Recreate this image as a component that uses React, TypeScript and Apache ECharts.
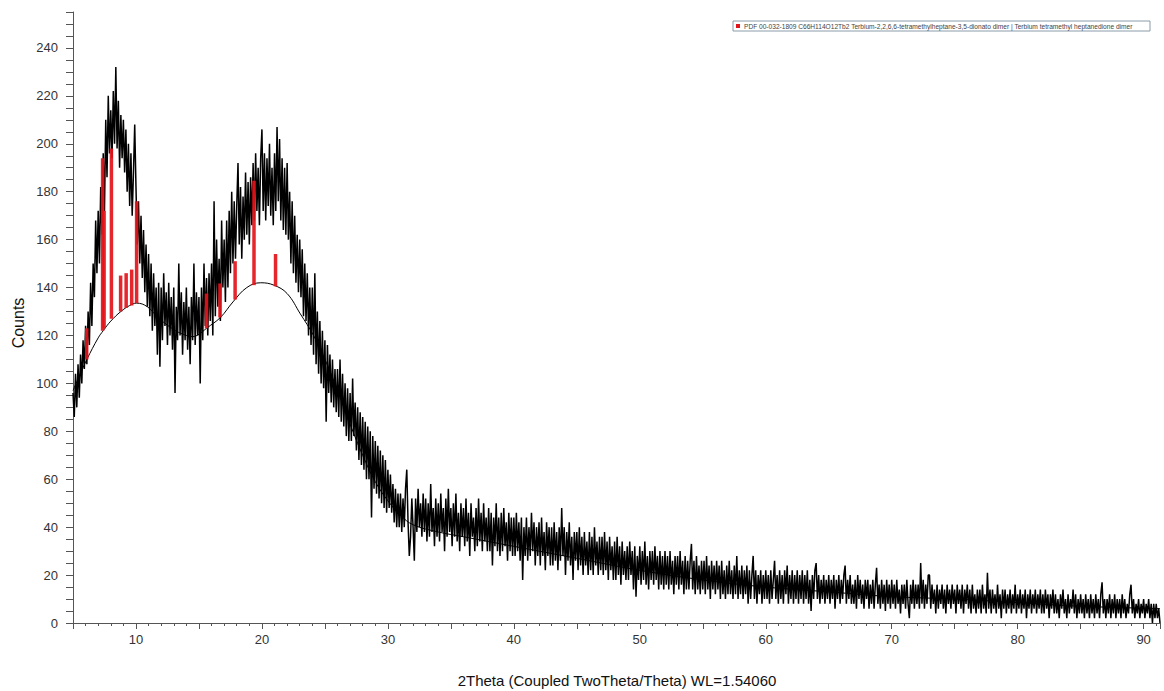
import React, { useEffect, useRef } from "react";
import * as echarts from "echarts";

// Scan grid: 2Theta from 5.0 in steps of 0.1 degrees
const THETA_START = 5;
const THETA_STEP = 0.1;

// Counts, 10 values per degree
const counts05to15 = [
  96, 86, 104, 90, 108, 94, 112, 100, 118, 106,
  124, 108, 130, 116, 142, 124, 150, 136, 168, 146,
  172, 150, 182, 162, 196, 172, 210, 186, 220, 196,
  214, 194, 222, 200, 232, 198, 218, 190, 212, 194,
  210, 188, 206, 180, 200, 174, 196, 170, 188, 208,
  182, 158, 176, 150, 170, 144, 164, 138, 158, 132,
  154, 128, 150, 122, 146, 124, 140, 112, 142, 107,
  140, 118, 146, 124, 138, 116, 142, 120, 136, 114,
  140, 96, 132, 118, 150, 120, 138, 112, 134, 118,
  140, 114, 132, 108, 136, 118, 150, 116, 138, 120,
];
const counts15to25 = [
  136, 100, 140, 118, 150, 124, 144, 120, 146, 126,
  150, 120, 176, 128, 160, 132, 152, 126, 168, 140,
  160, 134, 168, 140, 172, 146, 180, 150, 176, 152,
  174, 192, 158, 182, 152, 178, 160, 188, 162, 184,
  158, 186, 166, 192, 168, 196, 172, 190, 166, 194,
  206, 172, 196, 168, 194, 174, 200, 170, 190, 166,
  196, 172, 207, 176, 202, 168, 194, 164, 190, 162,
  192, 160, 180, 150, 176, 146, 170, 142, 162, 138,
  160, 136, 156, 128, 150, 126, 146, 120, 140, 116,
  140, 112, 146, 108, 130, 104, 126, 100, 122, 98,
];
const counts25to40 = [
  118, 84, 116, 96, 112, 92, 110, 90, 106, 88,
  106, 86, 110, 84, 104, 82, 100, 78, 98, 76,
  96, 76, 102, 78, 92, 72, 90, 68, 88, 66,
  86, 64, 84, 60, 82, 60, 80, 44, 78, 56,
  76, 54, 74, 52, 72, 50, 70, 48, 68, 46,
  64, 48, 62, 46, 58, 42, 56, 40, 54, 40,
  54, 38, 52, 40, 56, 64, 42, 28, 36, 52,
  40, 26, 52, 38, 56, 40, 50, 36, 54, 38,
  52, 34, 50, 36, 58, 38, 48, 32, 52, 36,
  50, 34, 54, 38, 48, 30, 52, 36, 56, 38,
  48, 32, 50, 36, 54, 34, 46, 30, 50, 36,
  48, 32, 52, 34, 46, 28, 50, 36, 44, 30,
  48, 32, 52, 34, 46, 30, 50, 34, 44, 30,
  48, 30, 46, 24, 44, 32, 50, 30, 44, 28,
  46, 30, 48, 32, 42, 26, 46, 30, 44, 28,
];
const counts40to60 = [
  44, 28, 46, 30, 42, 26, 44, 18, 40, 28,
  44, 26, 40, 28, 46, 30, 42, 24, 40, 28,
  42, 24, 44, 28, 38, 22, 42, 28, 40, 24,
  40, 24, 42, 26, 38, 22, 40, 26, 48, 28,
  40, 20, 38, 26, 42, 24, 36, 18, 38, 26,
  38, 22, 40, 24, 36, 20, 38, 24, 34, 20,
  38, 22, 36, 20, 40, 24, 34, 20, 36, 22,
  36, 20, 38, 22, 34, 18, 36, 22, 32, 18,
  34, 18, 36, 20, 32, 16, 34, 20, 30, 18,
  32, 18, 34, 20, 30, 14, 32, 11, 28, 18,
  32, 16, 30, 18, 34, 16, 28, 14, 30, 18,
  30, 16, 32, 18, 28, 14, 30, 16, 28, 14,
  30, 16, 28, 14, 30, 16, 26, 12, 28, 16,
  28, 14, 30, 16, 26, 12, 28, 14, 26, 14,
  26, 33, 14, 26, 12, 28, 14, 24, 12, 26,
  14, 26, 12, 28, 14, 24, 10, 26, 14, 24,
  12, 26, 14, 24, 10, 26, 12, 22, 10, 24,
  12, 26, 12, 22, 10, 24, 12, 28, 10, 22,
  12, 24, 10, 22, 12, 24, 8, 22, 10, 20,
  28, 10, 22, 8, 20, 12, 22, 8, 20, 10,
];
const counts60to91 = [
  22, 10, 20, 8, 22, 10, 18, 26, 10, 20,
  8, 22, 10, 20, 8, 22, 12, 24, 8, 20,
  10, 22, 8, 20, 10, 22, 8, 20, 10, 22,
  8, 20, 10, 22, 8, 18, 5, 20, 10, 22,
  25, 10, 20, 8, 18, 10, 20, 8, 18, 10,
  20, 8, 18, 10, 20, 6, 18, 10, 20, 8,
  18, 10, 20, 24, 8, 18, 10, 20, 8, 16,
  8, 18, 6, 20, 10, 18, 8, 16, 6, 18,
  10, 18, 6, 16, 8, 18, 6, 16, 23, 8,
  16, 6, 18, 8, 16, 5, 18, 8, 16, 6,
  18, 8, 16, 6, 18, 8, 14, 4, 16, 8,
  16, 6, 18, 8, 2, 16, 8, 18, 6, 16,
  8, 16, 6, 25, 8, 18, 6, 16, 8, 20,
  20, 6, 16, 8, 14, 4, 16, 6, 14, 8,
  16, 6, 14, 4, 16, 8, 14, 6, 16, 8,
  14, 4, 16, 8, 14, 6, 16, 4, 14, 8,
  16, 6, 14, 4, 16, 6, 12, 4, 14, 6,
  14, 4, 16, 6, 12, 4, 21, 6, 14, 4,
  14, 6, 12, 4, 16, 6, 12, 2, 14, 6,
  14, 4, 12, 6, 14, 4, 12, 6, 16, 4,
  12, 6, 14, 4, 12, 6, 14, 2, 12, 6,
  14, 4, 12, 6, 14, 4, 12, 6, 14, 4,
  12, 4, 14, 6, 12, 2, 12, 6, 14, 4,
  12, 4, 10, 2, 12, 6, 14, 4, 10, 2,
  12, 4, 10, 6, 14, 4, 12, 2, 10, 4,
  12, 4, 10, 2, 12, 4, 10, 2, 12, 4,
  10, 2, 12, 4, 10, 2, 12, 17, 4, 10,
  2, 10, 4, 12, 2, 10, 4, 12, 2, 10,
  4, 10, 2, 12, 4, 10, 2, 8, 4, 12,
  16, 4, 10, 2, 8, 4, 10, 2, 8, 4,
  10, 2, 8, 4, 10, 2, 8, 0, 8, 2,
  8, 2, 6, 0,
];

// Background curve (knots)
const bgTheta = [5.0, 5.5, 6.1, 7.0, 7.4, 8.0, 8.8, 9.5, 10.05, 10.9, 11.85, 13.15, 14.0, 14.5, 15.0, 15.6, 16.7, 17.7, 18.8, 19.9, 20.95, 22.0, 23.05, 24.1, 25, 26, 27, 28, 29, 30, 31, 32, 34, 36, 38, 40, 45, 50, 55, 60, 65, 70, 75, 80, 85, 91.3];
const bgCounts = [97, 103, 110, 119, 122, 126, 130, 132.5, 133.5, 132, 127, 122, 120, 119.5, 120.5, 123, 127.5, 134, 140, 142, 141, 137.5, 129, 120, 110, 97, 83, 70, 59, 51, 45, 41, 38, 36, 34, 32, 27, 22, 18, 15, 13, 11, 10, 8.5, 7, 6];

// Reference pattern sticks (PDF 00-032-1809)
const stickTheta = [6.09, 7.35, 7.47, 8.05, 8.78, 9.22, 9.66, 10.05, 15.6, 16.67, 17.87, 19.37, 21.08];
const stickBase = [110, 122, 123, 127, 130, 131.5, 132.5, 133.5, 123, 127.5, 135, 141, 140.5];
const stickTop = [123, 194, 172, 198, 145, 146, 147.5, 176, 137.5, 141.7, 151, 184.6, 154];

const legendText =
  "PDF 00-032-1809 C66H114O12Tb2 Terbium-2,2,6,6-tetramethylheptane-3,5-dionato dimer | Terbium tetramethyl heptanedione dimer";

export default function App() {
  const ref = useRef<HTMLDivElement>(null);

  useEffect(() => {
    if (!ref.current) return;
    const chart = echarts.init(ref.current, undefined, { renderer: "svg" });
    const allCounts = [
      ...counts05to15,
      ...counts15to25,
      ...counts25to40,
      ...counts40to60,
      ...counts60to91,
    ];
    const scan = allCounts.map((c, i) => [
      Math.round((THETA_START + i * THETA_STEP) * 10) / 10,
      c,
    ]);
    const bg = bgTheta.map((t, i) => [t, bgCounts[i]]);
    const sticks = stickTheta.map((t, i) => [t, stickBase[i], stickTop[i]]);

    const axisColor = "#555";
    const font = "Liberation Sans";

    chart.setOption({
      animation: false,
      backgroundColor: "#ffffff",
      grid: { left: 73, right: 4, top: 12, bottom: 68, containLabel: false },
      xAxis: [
        {
          type: "value",
          min: 5,
          max: 91.3,
          interval: 1,
          position: "bottom",
          axisLine: { show: true, lineStyle: { color: axisColor, width: 1 } },
          axisTick: { show: true, length: 3, lineStyle: { color: axisColor } },
          axisLabel: {
            formatter: (v: number) => (Math.abs(v % 10) < 1e-6 ? String(v) : ""),
            color: "#333",
            fontSize: 13,
            fontFamily: font,
            margin: 10,
            showMaxLabel: false,
          },
          splitLine: { show: false },
        },
        {
          type: "value",
          min: 5,
          max: 91.3,
          interval: 5,
          position: "bottom",
          axisLine: { show: false },
          axisTick: { show: true, length: 6, lineStyle: { color: axisColor } },
          axisLabel: { show: false },
          splitLine: { show: false },
        },
      ],
      yAxis: {
        type: "value",
        min: 0,
        max: 255,
        interval: 5,
        axisLine: { show: true, lineStyle: { color: axisColor, width: 1 } },
        axisTick: { show: true, length: 7, lineStyle: { color: axisColor } },
        axisLabel: {
          formatter: (v: number) => (v % 20 === 0 ? String(v) : ""),
          color: "#333",
          fontSize: 13,
          fontFamily: font,
          margin: 15,
        },
        splitLine: { show: false },
      },
      series: [
        {
          type: "line",
          name: "scan",
          data: scan,
          showSymbol: false,
          symbol: "none",
          lineStyle: { color: "#000", width: 1.5, join: "bevel" },
          z: 2,
        },
        {
          type: "line",
          name: "background",
          data: bg,
          smooth: 0.4,
          showSymbol: false,
          symbol: "none",
          lineStyle: { color: "#000", width: 1 },
          z: 3,
        },
        {
          type: "custom",
          name: "sticks",
          data: sticks,
          encode: { x: 0, y: [1, 2] },
          z: 4,
          renderItem: (params: any, api: any) => {
            const x = api.value(0);
            const b = api.coord([x, api.value(1)]);
            const t = api.coord([x, api.value(2)]);
            return {
              type: "rect",
              shape: { x: b[0] - 1.75, y: t[1], width: 3.5, height: b[1] - t[1] },
              style: { fill: "#e3131b", opacity: 0.92 },
            };
          },
        },
      ],
      graphic: [
        {
          type: "rect",
          shape: { x: 733, y: 21, width: 417, height: 10 },
          style: { fill: "#fff", stroke: "#8a9aaa", lineWidth: 1 },
          z: 10,
        },
        {
          type: "rect",
          shape: { x: 736, y: 24, width: 4, height: 4 },
          style: { fill: "#e3131b" },
          z: 11,
        },
        {
          type: "text",
          x: 744,
          y: 26,
          style: {
            text: legendText,
            font: '6.6px "Liberation Sans"',
            fill: "#444",
            textVerticalAlign: "middle",
          },
          z: 11,
        },
        {
          type: "text",
          x: 18,
          y: 323,
          rotation: Math.PI / 2,
          style: {
            text: "Counts",
            font: '16px "Liberation Sans"',
            fill: "#111",
            textAlign: "center",
            textVerticalAlign: "middle",
          },
        },
        {
          type: "text",
          x: 617,
          y: 680,
          style: {
            text: "2Theta (Coupled TwoTheta/Theta) WL=1.54060",
            font: '15px "Liberation Sans"',
            fill: "#111",
            textAlign: "center",
            textVerticalAlign: "middle",
          },
        },
      ],
    });
    return () => chart.dispose();
  }, []);

  return (
    <div
      ref={ref}
      style={{ position: "absolute", left: 0, top: 0, width: 1164, height: 691 }}
    />
  );
}
